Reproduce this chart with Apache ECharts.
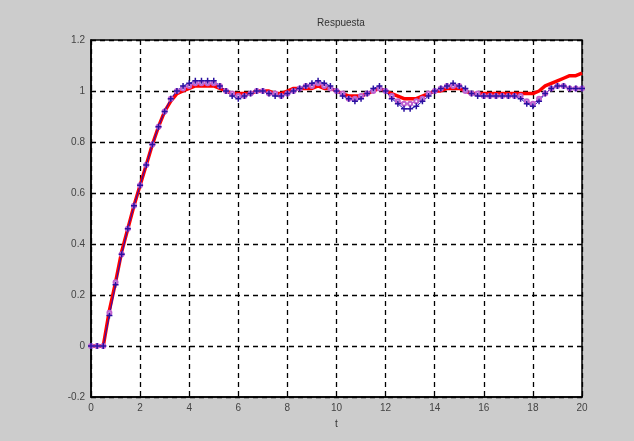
<!DOCTYPE html>
<html><head><meta charset="utf-8">
<script src="https://cdn.jsdelivr.net/npm/echarts@6/dist/echarts.min.js"></script>
<style>html,body{margin:0;padding:0;background:#cccccc}#c{width:634px;height:441px}</style>
</head><body><div id="c"></div>
<script>
const t = [];
for (let i = 0; i <= 80; i++) t.push(i * 0.25);
const xTicks = [0,2,4,6,8,10,12,14,16,18,20];
const yTicks = [-0.2,0,0.2,0.4,0.6,0.8,1,1.2];
const redY = [0,0,0,0.14,0.25,0.37,0.46,0.55,0.63,0.71,0.79,0.86,0.92,0.96,0.99,1.0,1.01,1.02,1.02,1.02,1.02,1.01,1.0,0.99,0.99,0.99,0.99,1.0,1.0,1.0,0.99,0.99,1.0,1.01,1.01,1.01,1.01,1.02,1.01,1.01,1.0,0.99,0.98,0.98,0.98,0.99,1.0,1.01,1.0,0.99,0.98,0.97,0.97,0.97,0.98,0.99,1.0,1.0,1.01,1.01,1.01,1.0,0.99,0.99,0.99,0.99,0.99,0.99,0.99,0.99,0.99,0.99,0.99,1.0,1.02,1.03,1.04,1.05,1.06,1.06,1.07];
const blueY = [0,0,0,0.12,0.24,0.36,0.46,0.55,0.63,0.71,0.79,0.86,0.92,0.97,1.0,1.02,1.03,1.04,1.04,1.04,1.04,1.02,1.0,0.98,0.97,0.98,0.99,1.0,1.0,0.99,0.98,0.98,0.99,1.0,1.01,1.02,1.03,1.04,1.03,1.02,1.0,0.98,0.97,0.96,0.97,0.99,1.01,1.02,1.0,0.97,0.95,0.93,0.93,0.94,0.96,0.98,1.0,1.01,1.02,1.03,1.02,1.01,0.99,0.98,0.98,0.98,0.98,0.98,0.98,0.98,0.97,0.95,0.94,0.96,0.99,1.01,1.02,1.02,1.01,1.01,1.01];
const purpleY = [0,0,0,0.13,0.25,0.36,0.46,0.55,0.63,0.71,0.79,0.86,0.92,0.97,1.0,1.01,1.02,1.03,1.03,1.03,1.03,1.02,1.0,0.99,0.98,0.98,0.99,1.0,1.0,0.99,0.99,0.98,0.99,1.0,1.01,1.02,1.02,1.03,1.02,1.01,1.0,0.99,0.97,0.97,0.98,0.99,1.0,1.01,1.0,0.98,0.96,0.95,0.95,0.96,0.97,0.99,1.0,1.01,1.02,1.02,1.02,1.0,0.99,0.99,0.98,0.98,0.98,0.98,0.98,0.98,0.98,0.96,0.95,0.97,0.99,1.01,1.02,1.02,1.01,1.01,1.01];
const pairs = ys => t.map((x, i) => [x, ys[i]]);
const plus = 'path://M-1,-0.25H1V0.25H-1Z M-0.25,-1H0.25V1H-0.25Z';
const chart = echarts.init(document.getElementById('c'), null, {renderer: 'canvas'});
chart.setOption({
  backgroundColor: '#cccccc',
  animation: false,
  title: {text: 'Respuesta', left: 336, top: 13, textAlign: 'center',
    textStyle: {fontFamily: 'Liberation Sans', fontSize: 10, fontWeight: 'normal', color: '#333'}},
  grid: {left: 91, right: 52, top: 40, bottom: 44, show: true, backgroundColor: '#fff', borderColor: '#000', borderWidth: 1.5},
  xAxis: {type: 'value', min: 0, max: 20, interval: 2, name: 't', nameLocation: 'middle', nameGap: 22,
    nameTextStyle: {fontFamily: 'Liberation Sans', fontSize: 10, color: '#333'},
    axisLine: {onZero: false, lineStyle: {color: '#000', width: 1.5}}, axisTick: {inside: true, length: 4, lineStyle: {color: '#000'}},
    axisLabel: {fontFamily: 'Liberation Sans', fontSize: 10, color: '#444', margin: 6,
      formatter: v => xTicks.includes(v) ? String(v) : ''},
    splitLine: {show: true, lineStyle: {color: '#000', type: [5, 4], width: 1.3}}},
  yAxis: {type: 'value', min: -0.2, max: 1.2, interval: 0.2,
    axisLine: {show: true, onZero: false, lineStyle: {color: '#000', width: 1.5}}, axisTick: {show: true, inside: true, length: 4, lineStyle: {color: '#000'}},
    axisLabel: {fontFamily: 'Liberation Sans', fontSize: 10, color: '#444', margin: 6,
      formatter: v => { const r = Math.round(v * 10) / 10; return yTicks.includes(r) ? String(r) : ''; }},
    splitLine: {show: true, lineStyle: {color: '#000', type: [5, 4], width: 1.3}}},
  series: [
    {type: 'line', data: pairs(purpleY), symbol: 'emptyCircle', symbolSize: 4, showSymbol: true,
      lineStyle: {color: '#b040c0', width: 1}, itemStyle: {color: '#c060d0', borderWidth: 1}},
    {type: 'line', data: pairs(redY), symbol: 'none',
      lineStyle: {color: '#ff0000', width: 3.5}},
    {type: 'line', data: pairs(blueY), symbol: plus, symbolSize: 6, showSymbol: true,
      lineStyle: {color: '#2010c0', width: 1}, itemStyle: {color: '#2a10a0'}}
  ]
});
</script></body></html>
